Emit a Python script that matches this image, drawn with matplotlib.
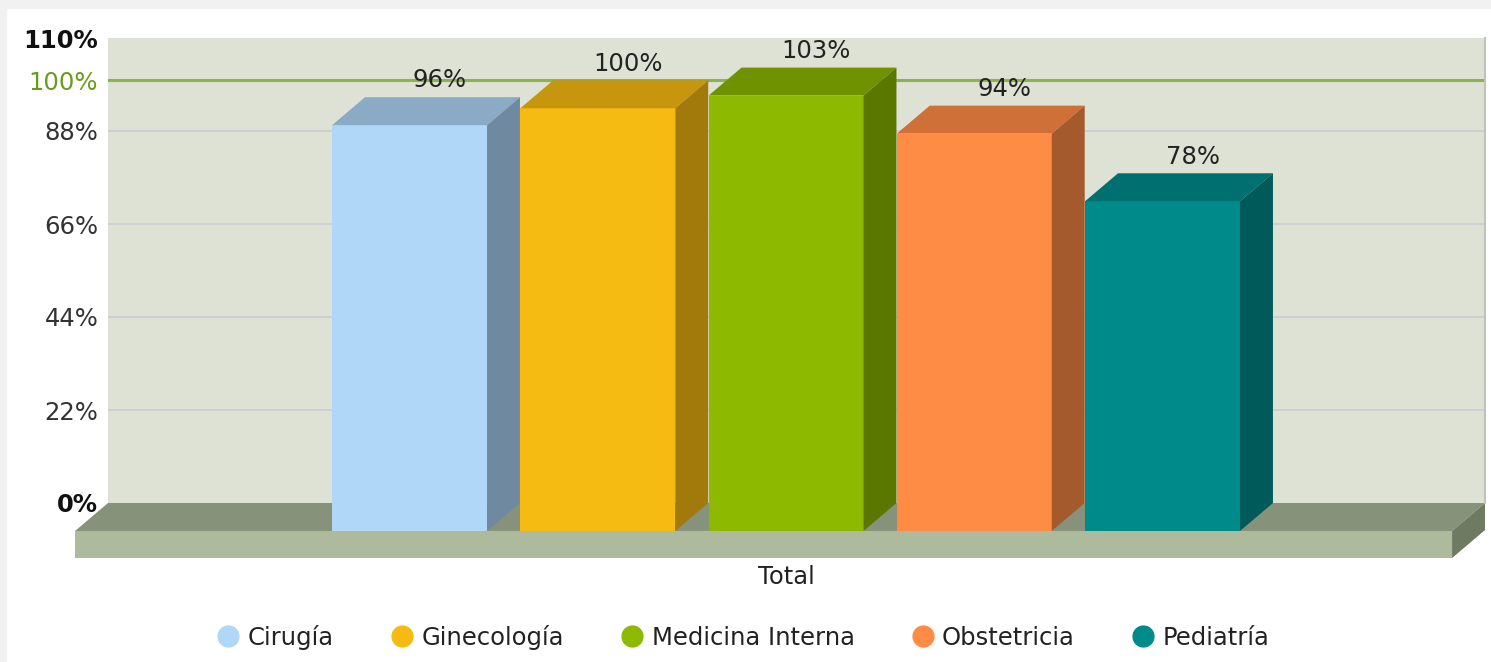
import matplotlib
matplotlib.use("Agg")
import matplotlib.pyplot as plt
from matplotlib.patches import Polygon, Rectangle
from matplotlib.lines import Line2D

# ── Data ─────────────────────────────────────────────────────────────────────
CATEGORIES = ["Cirugía", "Ginecología", "Medicina Interna", "Obstetricia", "Pediatría"]
VALUES = [96, 100, 103, 94, 78]
Y_TICKS = [0, 22, 44, 66, 88, 100, 110]
Y_TICK_LABELS = ["0%", "22%", "44%", "66%", "88%", "100%", "110%"]
GROUP_LABEL = "Total"
TARGET = 100

# ── Style ────────────────────────────────────────────────────────────────────
FRONT = ["#B0D7F7", "#F5BB12", "#8DBA00", "#FF8C45", "#008B8B"]
TOP   = ["#8AAAC6", "#C6960D", "#6F9300", "#CF7038", "#006F6F"]
SIDE  = ["#6F8AA0", "#A27A0B", "#5A7800", "#A55A2D", "#005A5A"]
WALL = "#DDE2D5"
FLOOR_TOP, FLOOR_FRONT, FLOOR_SIDE = "#87927A", "#ADBA9B", "#6F7A62"
FS = 17.5

W = 0.823           # bar width (category units)
DX = 0.175          # 3D depth offset in x (category units)
DY = 6.62           # 3D depth offset in y (percent units)
SLAB = 6.4          # floor thickness (percent units)
XLIM = (-1.777, 5.538)
YLIM = (0, 110)

fig = plt.figure(figsize=(14.91, 6.62), dpi=100)
fig.patches.append(Rectangle((0, 0.988), 1, 0.012, transform=fig.transFigure,
                             color="#F1F1F1", zorder=0))
fig.patches.append(Rectangle((0, 0), 0.004, 1, transform=fig.transFigure,
                             color="#F1F1F1", zorder=0))

ax = fig.add_axes([108 / 1491, 159 / 662, 1377 / 1491, 465 / 662])
ax.set_facecolor(WALL)
ax.set_xlim(*XLIM)
ax.set_ylim(*YLIM)
for s in ("top", "left", "bottom"):
    ax.spines[s].set_visible(False)
ax.spines["right"].set_color("#BFC3B8")
ax.spines["right"].set_linewidth(1.5)

# gridlines
for t in Y_TICKS:
    if t in (0, YLIM[1]):
        continue
    if t == TARGET:
        ax.axhline(t, color="#8DB44A", lw=2.2, zorder=1)
    else:
        ax.axhline(t, color="#CDCDD4", lw=1.3, zorder=1)

# floor
x0, x1 = XLIM
ax.add_patch(Polygon([(x0, 0), (x1, 0), (x1 - DX, -DY), (x0 - DX, -DY)],
                     closed=True, fc=FLOOR_TOP, ec="none", clip_on=False, zorder=2))
ax.add_patch(Polygon([(x0 - DX, -DY), (x1 - DX, -DY), (x1 - DX, -DY - SLAB), (x0 - DX, -DY - SLAB)],
                     closed=True, fc=FLOOR_FRONT, ec="none", clip_on=False, zorder=2))
ax.add_patch(Polygon([(x1 - DX, -DY), (x1, 0), (x1, -SLAB), (x1 - DX, -DY - SLAB)],
                     closed=True, fc=FLOOR_SIDE, ec="none", clip_on=False, zorder=2))

# bars
for i, v in enumerate(VALUES):
    l, r = i - W / 2, i + W / 2
    ax.add_patch(Polygon([(l - DX, -DY), (r - DX, -DY), (r - DX, v - DY), (l - DX, v - DY)],
                         closed=True, fc=FRONT[i], ec="none", clip_on=False, zorder=3))
    ax.add_patch(Polygon([(l - DX, v - DY), (r - DX, v - DY), (r, v), (l, v)],
                         closed=True, fc=TOP[i], ec="none", clip_on=False, zorder=3))
    ax.add_patch(Polygon([(r - DX, -DY), (r - DX, v - DY), (r, v), (r, 0)],
                         closed=True, fc=SIDE[i], ec="none", clip_on=False, zorder=3))
    ax.annotate(f"{v}%", (i, v), xytext=(-2, 7), textcoords="offset points",
                ha="center", va="baseline", fontsize=FS, color="#222222", zorder=4)

# axes labels
ax.set_yticks(Y_TICKS)
ax.set_yticklabels(Y_TICK_LABELS, fontsize=FS)
ax.tick_params(axis="y", length=0, pad=7)
for lab, t in zip(ax.get_yticklabels(), Y_TICKS):
    if t in (0, YLIM[1]):
        lab.set_fontweight("bold")
        lab.set_color("#111111")
    elif t == TARGET:
        lab.set_color("#6B9B1E")
    else:
        lab.set_color("#333333")

ax.set_xticks([(len(VALUES) - 1) / 2 - DX])
ax.set_xticklabels([GROUP_LABEL], fontsize=FS, color="#222222")
ax.tick_params(axis="x", length=0, pad=45)

# legend
handles = [Line2D([], [], marker="o", ls="none", ms=15, mfc=c, mec=c) for c in FRONT]
fig.legend(handles, CATEGORIES, loc="center", bbox_to_anchor=(0.499, 0.037),
           ncol=len(CATEGORIES), frameon=False, fontsize=FS, handlelength=0.8,
           handletextpad=0.4, columnspacing=2.4, labelcolor="#222222")

fig.savefig("out.png", dpi=100)
